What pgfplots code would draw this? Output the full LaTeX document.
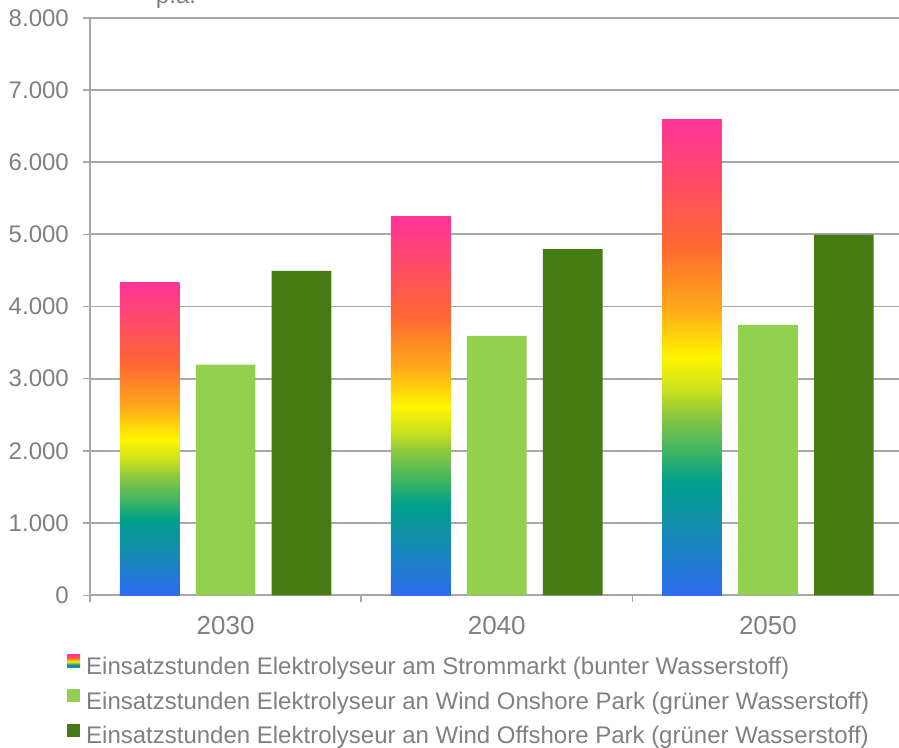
\documentclass[border=0pt]{standalone}
\usepackage{pgfplots}
\pgfplotsset{compat=1.18}
\usepackage{fontspec}
\setmainfont{Liberation Sans}
\definecolor{lgreen}{HTML}{92D050}
\definecolor{dgreen}{HTML}{457B13}
\definecolor{gridgray}{HTML}{A8A8A8}
\definecolor{txtgray}{HTML}{808080}
\pgfdeclareverticalshading{rainbow}{100bp}{rgb(0bp)=(0.176,0.42,0.94); rgb(25bp)=(0.176,0.42,0.94); rgb(33bp)=(0.063,0.565,0.659); rgb(37bp)=(0,0.627,0.541); rgb(40bp)=(0.235,0.706,0.392); rgb(44bp)=(0.549,0.784,0.247); rgb(46.5bp)=(0.784,0.882,0.118); rgb(50bp)=(1,0.96,0); rgb(55bp)=(1,0.667,0.098); rgb(62bp)=(1,0.4,0.2); rgb(75bp)=(1,0.2,0.6); rgb(100bp)=(1,0.2,0.6)}
\begin{document}
\begin{tikzpicture}
\useasboundingbox (0,0) rectangle (899bp,748bp);
\node[anchor=base, text=txtgray, font=\fontsize{24bp}{28bp}\selectfont, inner sep=0] at (176bp,744bp) {p.a.};
\begin{axis}[
  at={(90bp,152.7bp)}, anchor=south west,
  scale only axis, width=813.5bp, height=577.5bp,
  xmin=-0.5, xmax=2.5, ymin=0, ymax=8000,
  axis x line*=bottom, axis y line*=left,
  axis line style={draw=gridgray, line width=1.8bp, -},
  xtick={-0.5,0.5,1.5,2.5},
  xticklabels={2030,2040,2050},
  x tick label as interval,
  ytick={0,1000,...,8000},
  yticklabels={0,1.000,2.000,3.000,4.000,5.000,6.000,7.000,8.000},
  ymajorgrids, grid style={draw=gridgray, line width=1.8bp},
  tick style={draw=gridgray, line width=1.5bp},
  tick align=outside, major tick length=7bp,
  yticklabel style={inner sep=0pt, anchor=east, xshift=-14bp, text=txtgray, font=\fontsize{24bp}{28bp}\selectfont},
  xticklabel style={inner sep=0pt, anchor=north, yshift=-14bp, text=txtgray, font=\fontsize{26bp}{30bp}\selectfont},
  legend style={at={(-0.0283,-0.1028)}, anchor=north west, draw=none, fill=none, inner sep=0pt,
    column sep=6bp, row sep=8.5bp,
    nodes={inner sep=0pt, text height=18bp, text depth=6bp, text=txtgray, font=\fontsize{24bp}{28bp}\selectfont}},
  legend cell align=left,
]
\addplot[ybar, bar width=0.22, bar shift=-0.28, draw=none, shade, shading=rainbow, forget plot] coordinates {(0,4340)};
\addplot[ybar, bar width=0.22, bar shift=-0.28, draw=none, shade, shading=rainbow, forget plot] coordinates {(1,5245)};
\addplot[ybar, bar width=0.22, bar shift=-0.28, draw=none, shade, shading=rainbow, forget plot] coordinates {(2,6590)};
\addplot[ybar, bar width=0.22, bar shift=0, draw=none, fill=lgreen, forget plot] coordinates {(0,3195)(1,3595)(2,3745)};
\addplot[ybar, bar width=0.22, bar shift=0.28, draw=none, fill=dgreen, forget plot] coordinates {(0,4495)(1,4795)(2,4998)};
\addlegendimage{legend image code/.code={\path[draw=none,shade,shading=rainbow] (0bp,1bp) rectangle (13bp,14bp);}}
\addlegendentry{Einsatzstunden Elektrolyseur am Strommarkt (bunter Wasserstoff)}
\addlegendimage{legend image code/.code={\path[draw=none,fill=lgreen] (0bp,1bp) rectangle (13bp,14bp);}}
\addlegendentry{Einsatzstunden Elektrolyseur an Wind Onshore Park (grüner Wasserstoff)}
\addlegendimage{legend image code/.code={\path[draw=none,fill=dgreen] (0bp,1bp) rectangle (13bp,14bp);}}
\addlegendentry{Einsatzstunden Elektrolyseur an Wind Offshore Park (grüner Wasserstoff)}
\end{axis}
\end{tikzpicture}
\end{document}
